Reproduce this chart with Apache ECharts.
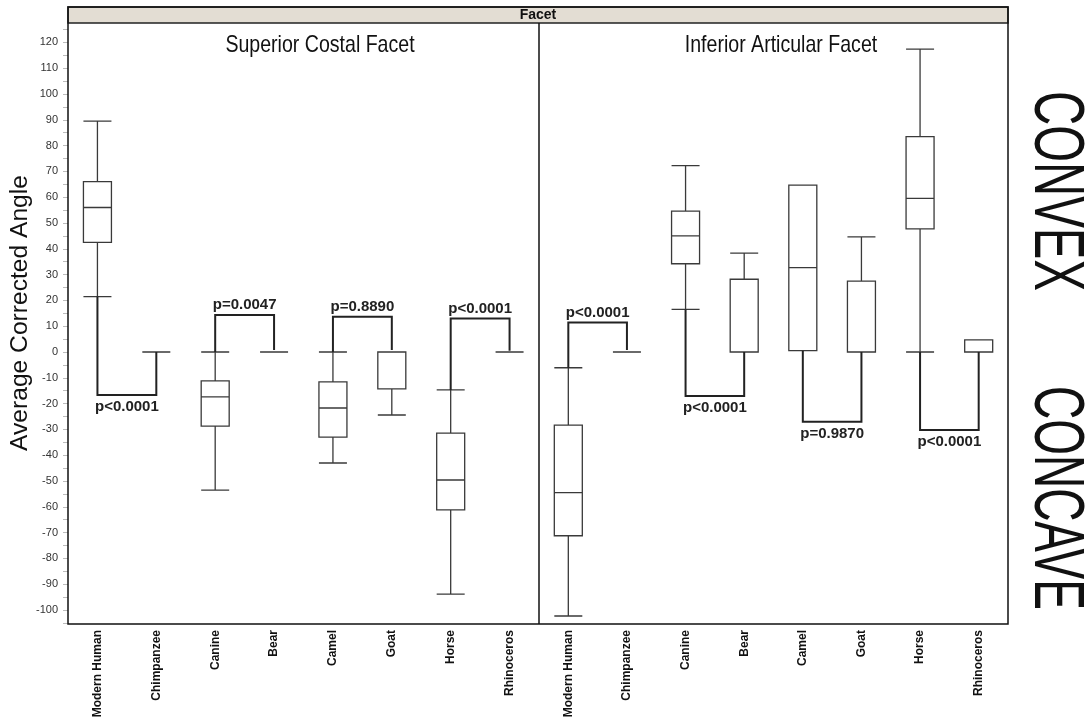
<!DOCTYPE html>
<html>
<head>
<meta charset="utf-8">
<script src="https://cdn.jsdelivr.net/npm/echarts@6/dist/echarts.min.js"></script>
<style>
html,body{margin:0;padding:0;background:#fff;}
#chart{width:1086px;height:722px;}
</style>
</head>
<body>
<div id="chart"></div>
<script>
// ---------- data ----------
const categories = ['Modern Human','Chimpanzee','Canine','Bear','Camel','Goat','Horse','Rhinoceros'];
const panelTitles = ['Superior Costal Facet','Inferior Articular Facet'];
// [min, Q1, median, Q3, max]
const superiorBoxes = [
  [21.5, 42.5, 56, 66, 89.5],
  [0, 0, 0, 0, 0],
  [-53.5, -28.7, -17.4, -11.2, 0],
  [0, 0, 0, 0, 0],
  [-43, -33, -21.7, -11.6, 0],
  [-24.4, -14.3, 0, 0, 0],
  [-93.8, -61.2, -49.6, -31.4, -14.7],
  [0, 0, 0, 0, 0]
];
const inferiorBoxes = [
  [-102.3, -71.2, -54.5, -28.3, -6.1],
  [0, 0, 0, 0, 0],
  [16.5, 34.2, 45, 54.6, 72.2],
  [0, 0, 0, 28.2, 38.3],
  [0.5, 0.5, 32.7, 64.7, 64.7],
  [0, 0, 0, 27.5, 44.6],
  [0, 47.7, 59.5, 83.5, 117.4],
  [0, 0, 0, 4.7, 4.7]
];
// brackets: [fromCategory, toCategory, startValue, levelValue, endValue]
const superiorBrackets = [
  [0, 1, 21.5, -16.7, 0],
  [2, 3, 0, 14.3, 0.8],
  [4, 5, 0, 13.7, 0.8],
  [6, 7, -14.7, 13, 0.5]
];
const superiorPLabels = ['p<0.0001','p=0.0047','p=0.8890','p<0.0001'];
const superiorPSide = ['below','above','above','above'];
const inferiorBrackets = [
  [0, 1, -6.1, 11.4, 0.8],
  [2, 3, 16.5, -17, 0],
  [4, 5, 0.5, -27, 0],
  [6, 7, 0, -30.2, 0]
];
const inferiorPLabels = ['p<0.0001','p<0.0001','p=0.9870','p<0.0001'];
const inferiorPSide = ['above','below','below','below'];
const yTickLabels = [-100,-90,-80,-70,-60,-50,-40,-30,-20,-10,0,10,20,30,40,50,60,70,80,90,100,110,120];
const yMinorTicks = [-105,-100,-95,-90,-85,-80,-75,-70,-65,-60,-55,-50,-45,-40,-35,-30,-25,-20,-15,-10,-5,0,5,10,15,20,25,30,35,40,45,50,55,60,65,70,75,80,85,90,95,100,105,110,115,120,125];
const yRange = [-105.4, 127.5];

// ---------- chart ----------
const chart = echarts.init(document.getElementById('chart'));
const FONT = '"Liberation Sans", Arial, sans-serif';

function bracketSeries(gridIdx, brackets, labels, sides) {
  return {
    type: 'custom',
    xAxisIndex: gridIdx,
    yAxisIndex: gridIdx,
    silent: true,
    z: 10,
    data: brackets.map((b, i) => [b[0], b[1], b[2], b[3], b[4], i]),
    renderItem: function (params, api) {
      const f = api.value(0), t = api.value(1);
      const s = api.value(2), l = api.value(3), e = api.value(4);
      const i = api.value(5);
      const p1 = api.coord([f, s]);
      const p2 = api.coord([f, l]);
      const p3 = api.coord([t, l]);
      const p4 = api.coord([t, e]);
      const side = sides[i];
      const cx = (p2[0] + p3[0]) / 2;
      const ty = side === 'above' ? p2[1] - 10 : p2[1] + 12;
      return {
        type: 'group',
        children: [
          { type: 'polyline', shape: { points: [p1, p2, p3, p4] },
            style: { stroke: '#222', lineWidth: 2, fill: null } },
          { type: 'text',
            style: { text: labels[i], x: cx, y: ty, textAlign: 'center', textVerticalAlign: 'middle',
                     fill: '#222', font: 'bold 15px ' + FONT } }
        ]
      };
    }
  };
}

function xAxisCfg(gridIdx) {
  return {
    type: 'category', gridIndex: gridIdx, data: categories,
    axisLine: { show: false }, axisTick: { show: false },
    axisLabel: { rotate: 90, interval: 0, fontSize: 12, fontWeight: 'bold', color: '#111',
                 fontFamily: FONT, margin: 6 },
    splitLine: { show: false }
  };
}

const option = {
  backgroundColor: '#fff',
  animation: false,
  grid: [
    { left: 68, top: 23, width: 471, bottom: 98 },
    { left: 539, top: 23, width: 469, bottom: 98 }
  ],
  xAxis: [xAxisCfg(0), xAxisCfg(1)],
  yAxis: [
    { type: 'value', gridIndex: 0, min: yRange[0], max: yRange[1],
      axisLine: { show: false },
      axisTick: { show: true, length: 5, customValues: yMinorTicks, lineStyle: { color: '#bbb' } },
      axisLabel: { customValues: yTickLabels, fontSize: 11, color: '#333', fontFamily: FONT, margin: 10 },
      splitLine: { show: false } },
    { type: 'value', gridIndex: 1, min: yRange[0], max: yRange[1], show: false,
      splitLine: { show: false } }
  ],
  series: [
    { type: 'boxplot', xAxisIndex: 0, yAxisIndex: 0, data: superiorBoxes, silent: true,
      boxWidth: [28, 28],
      itemStyle: { color: '#fff', borderColor: '#3a3a3a', borderWidth: 1.3 } },
    { type: 'boxplot', xAxisIndex: 1, yAxisIndex: 1, data: inferiorBoxes, silent: true,
      boxWidth: [28, 28],
      itemStyle: { color: '#fff', borderColor: '#3a3a3a', borderWidth: 1.3 } },
    bracketSeries(0, superiorBrackets, superiorPLabels, superiorPSide),
    bracketSeries(1, inferiorBrackets, inferiorPLabels, inferiorPSide)
  ],
  graphic: [
    { type: 'rect', shape: { x: 68, y: 7, width: 940, height: 16 },
      style: { fill: '#e3ddd3', stroke: '#222', lineWidth: 1.5 }, z: 100 },
    { type: 'text', x: 538, y: 15.5,
      style: { text: 'Facet', font: 'bold 14px ' + FONT, fill: '#111', textAlign: 'center', textVerticalAlign: 'middle' }, z: 101 },
    { type: 'rect', shape: { x: 68, y: 7, width: 940, height: 617 },
      style: { fill: null, stroke: '#111', lineWidth: 1.5 }, z: 100 },
    { type: 'line', shape: { x1: 539, y1: 23, x2: 539, y2: 624 },
      style: { stroke: '#111', lineWidth: 1.5 }, z: 100 },
    { type: 'text', x: 320, y: 45, scaleX: 0.815,
      style: { text: panelTitles[0], font: '24px ' + FONT, fill: '#111', textAlign: 'center', textVerticalAlign: 'middle' }, z: 101 },
    { type: 'text', x: 781, y: 45, scaleX: 0.815,
      style: { text: panelTitles[1], font: '24px ' + FONT, fill: '#111', textAlign: 'center', textVerticalAlign: 'middle' }, z: 101 },
    { type: 'text', x: 21, y: 313, rotation: Math.PI / 2, scaleX: 1.07, scaleY: 1,
      style: { text: 'Average Corrected Angle', font: '23px ' + FONT, fill: '#111', textAlign: 'center', textVerticalAlign: 'middle' }, z: 101 },
    { type: 'text', x: 1055, y: 191, rotation: -Math.PI / 2, scaleX: 0.667, scaleY: 1,
      style: { text: 'CONVEX', font: '71px ' + FONT, fill: '#111', textAlign: 'center', textVerticalAlign: 'middle' }, z: 101 },
    { type: 'text', x: 1055, y: 498, rotation: -Math.PI / 2, scaleX: 0.647, scaleY: 1,
      style: { text: 'CONCAVE', font: '71px ' + FONT, fill: '#111', textAlign: 'center', textVerticalAlign: 'middle' }, z: 101 }
  ]
};
chart.setOption(option);
</script>
</body>
</html>
